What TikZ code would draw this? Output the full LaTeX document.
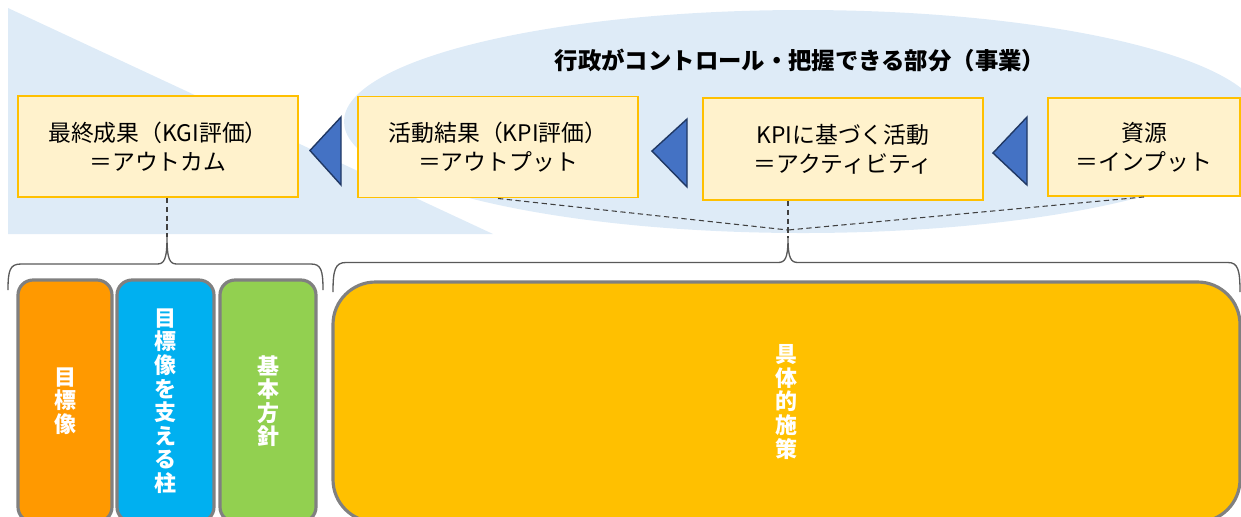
\documentclass[tikz,border=0pt]{standalone}
\usepackage{fontspec}
\setmainfont{Noto Sans CJK JP}
\usepackage{tikz}
\usetikzlibrary{calc}
\usepackage{xcolor}
\definecolor{bgblue}{RGB}{222,235,247}
\definecolor{stagebg}{RGB}{255,242,204}
\definecolor{tgold}{RGB}{255,192,0}
\definecolor{triblue}{RGB}{68,114,196}
\definecolor{trinavy}{RGB}{32,56,100}
\definecolor{torange}{RGB}{255,153,0}
\definecolor{tcyan}{RGB}{0,176,240}
\definecolor{tgreen}{RGB}{146,208,80}
\definecolor{edgegray}{RGB}{128,128,128}

\begin{document}
\begin{tikzpicture}[
    every node/.style={font=\fontsize{13pt}{16.5pt}\selectfont},
    stage/.style={rectangle, draw=tgold, fill=stagebg, line width=1.1pt, minimum width=5.6cm, minimum height=2.02cm, align=center, inner sep=2pt},
    tri/.style={fill=triblue, draw=trinavy, line width=0.8pt, line join=miter},
    link/.style={dash pattern=on 3pt off 2pt, draw=black!75, line width=0.6pt},
    brc/.style={draw=black!65, line width=0.75pt},
    pillar/.style={rectangle, rounded corners=0.3cm, draw=edgegray, line width=1.8pt, minimum height=4.84cm, align=center, text=white, font=\fontsize{12.5pt}{13.4pt}\selectfont\bfseries},
    headline/.style={font=\fontsize{13.3pt}{16pt}\selectfont\bfseries},
]

% ── Canvas ──
\useasboundingbox (0,0) rectangle (24.82,-10.32);
\clip (0,0) rectangle (24.82,-10.32);

% ── Background areas ──
\fill[bgblue] (0.16,-0.16) -- (9.86,-4.68) -- (0.16,-4.68) -- cycle;
\fill[bgblue] (16.06,-2.43) ellipse [x radius=9.18cm, y radius=2.23cm];
\node[headline] (title) at (16.0,-1.2) {行政がコントロール・把握できる部分（事業）};

% ── Logic chain ──
\node[stage] (outcome) at (3.16,-2.93) {最終成果（KGI評価）\\＝アウトカム};
\node[stage] (output) at (9.96,-2.94) {活動結果（KPI評価）\\＝アウトプット};
\node[stage, minimum height=2.04cm] (activity) at (16.86,-2.98) {KPIに基づく活動\\＝アクティビティ};
\node[stage, minimum width=3.84cm, minimum height=1.96cm] (input) at (22.88,-2.94) {資源\\＝インプット};

\draw[tri] ($(outcome.east)+(0.22,-0.08)$) -- ($(output.west)+(-0.32,0.6)$) -- ($(output.west)+(-0.32,-0.76)$) -- cycle;
\draw[tri] ($(output.east)+(0.26,-0.08)$) -- ($(activity.west)+(-0.3,0.6)$) -- ($(activity.west)+(-0.3,-0.76)$) -- cycle;
\draw[tri] ($(activity.east)+(0.18,-0.08)$) -- ($(input.west)+(-0.4,0.6)$) -- ($(input.west)+(-0.4,-0.76)$) -- cycle;

% ── Dashed links to braces ──
\coordinate (ltip) at (3.34,-4.74);
\coordinate (meet) at (15.76,-4.6);
\coordinate (rtip) at (15.76,-4.76);
\draw[link] (outcome.south -| ltip) -- (ltip);
\draw[link] (output.south) -- (meet);
\draw[link] (input.south) -- (meet);
\draw[link] (activity.south -| meet) -- (rtip);

% ── Braces ──
\draw[brc] (0.16,-5.8) .. controls (0.16,-5.4) and (0.2,-5.28) .. (0.42,-5.28) -- (3.14,-5.28)
  .. controls (3.28,-5.28) and (3.34,-5.2) .. (ltip)
  .. controls (3.34,-5.2) and (3.4,-5.28) .. (3.54,-5.28) -- (6.22,-5.28)
  .. controls (6.42,-5.28) and (6.46,-5.4) .. (6.46,-5.8);
\draw[brc] (6.66,-5.84) .. controls (6.66,-5.4) and (6.7,-5.25) .. (6.92,-5.25) -- (15.56,-5.25)
  .. controls (15.7,-5.25) and (15.76,-5.17) .. (rtip)
  .. controls (15.76,-5.17) and (15.82,-5.25) .. (15.96,-5.25) -- (24.56,-5.25)
  .. controls (24.76,-5.25) and (24.8,-5.4) .. (24.8,-5.84);

% ── Pillars ──
\node[pillar, fill=torange, minimum width=1.88cm] (vision) at (1.3,-8.02) {目\\標\\像};
\node[pillar, fill=tcyan, minimum width=1.94cm] (support) at (3.31,-8.02) {目\\標\\像\\を\\支\\え\\る\\柱};
\node[pillar, fill=tgreen, minimum width=1.92cm] (policy) at (5.36,-8.02) {基\\本\\方\\針};
\node[pillar, fill=tgold, minimum width=18.14cm, minimum height=4.8cm, rounded corners=0.85cm] (measures) at (15.73,-8.04) {具\\体\\的\\施\\策};

\end{tikzpicture}
\end{document}
